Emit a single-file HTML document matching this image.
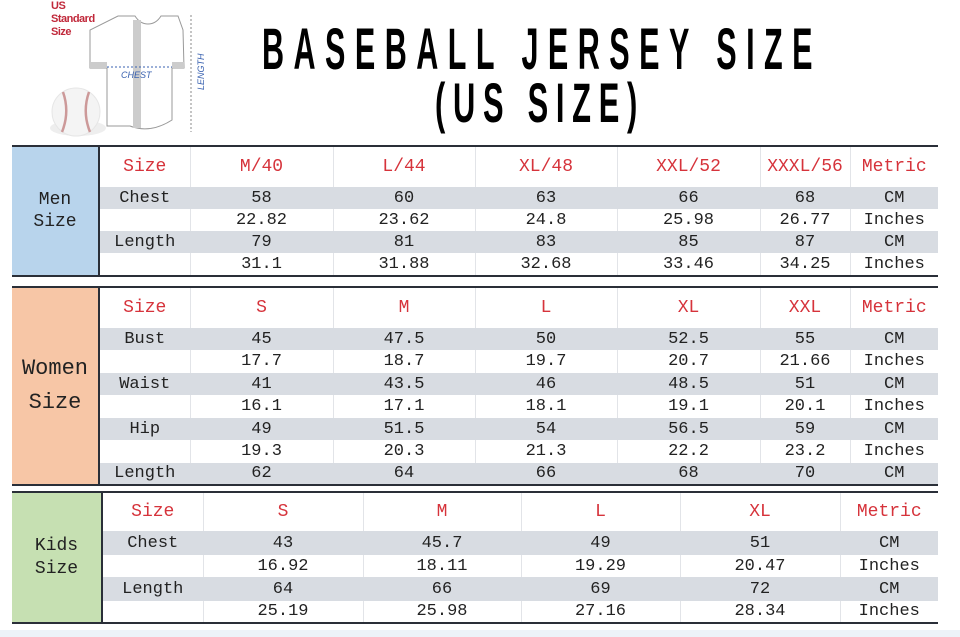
<!DOCTYPE html>
<html><head><meta charset="utf-8"><style>
body{margin:0;width:960px;height:637px;background:#fff;position:relative;overflow:hidden;font-family:"Liberation Mono","Noto Sans CJK SC",monospace;color:#222}
.sec{position:absolute;left:12px;width:926px;border-top:2px solid #2a2f38;border-bottom:2px solid #2a2f38}
.lab{position:absolute;left:0;top:0;bottom:0;border-right:2px solid #2a2f38;display:flex;align-items:center;justify-content:center;text-align:center;font-family:"Liberation Mono",monospace;}
table{position:absolute;top:0;border-collapse:collapse;table-layout:fixed}
td{padding:0;text-align:center;font-size:17px;line-height:1;white-space:nowrap;border-left:1px solid #e2e4e8}
td:first-child{border-left:none}
tr.g td{background:#d8dce2;border-left-color:#d8dce2}
tr.h td{color:#d6333b;font-size:18px;font-weight:normal}
.strip{position:absolute;left:0;top:630px;width:960px;height:7px;background:#edf2f8}
</style></head><body>
<div style="position:absolute;left:51px;top:0;color:#c0283a;font:bold 11px/13px 'Liberation Sans',sans-serif;letter-spacing:-0.5px">US<br>Standard<br>Size</div>
<svg style="position:absolute;left:0;top:0" width="240" height="140">
 <ellipse cx="78" cy="128" rx="28" ry="8" fill="#eee"/>
 <circle cx="76" cy="112" r="24" fill="#f4f4f4" stroke="#e6e6e6"/>
 <path d="M63 92 Q70 112 62 132 M89 92 Q82 112 90 132" stroke="#c99" stroke-width="2.5" fill="none"/>
 <path d="M118 16 L135 16 Q140 24 148 24 Q156 24 161 16 L178 16 L183 30 L184 68 L172 68 L172 120 Q150 134 130 126 L107 126 L107 68 L90 68 L90 30 Z" fill="#fff" stroke="#999"/>
 <rect x="90" y="62" width="17" height="6" fill="#ccc"/><rect x="172" y="62" width="12" height="6" fill="#ccc"/>
 <rect x="133" y="20" width="8" height="108" fill="#ccc"/>
 <line x1="107" y1="67" x2="172" y2="67" stroke="#3a62b0" stroke-dasharray="2,2"/>
 <text x="121" y="78" font-size="9" fill="#3a62b0" font-style="italic" font-family="Liberation Sans">CHEST</text>
 <line x1="191" y1="15" x2="191" y2="132" stroke="#888" stroke-dasharray="2,2"/>
 <text x="0" y="0" font-size="9" fill="#3a62b0" font-style="italic" font-family="Liberation Sans" transform="translate(204,90) rotate(-90)">LENGTH</text>
</svg>
<svg style="position:absolute;left:0;top:0" width="960" height="140">
 <text x="262" y="69" font-family="Liberation Sans" font-weight="bold" font-size="58" textLength="560" lengthAdjust="spacingAndGlyphs" letter-spacing="18">BASEBALL JERSEY SIZE</text>
 <text x="435" y="122" font-family="Liberation Sans" font-weight="bold" font-size="56" textLength="210" lengthAdjust="spacingAndGlyphs" letter-spacing="14">(US SIZE)</text>
</svg>

<div class="sec" style="top:145px;height:128px">
 <div class="lab" style="width:86px;background:#b8d4ec;font-size:18px;line-height:22px">Men<br>Size</div>
 <table style="left:88px;width:838px">
  <colgroup><col style="width:90px"><col style="width:143px"><col style="width:142px"><col style="width:142px"><col style="width:143px"><col style="width:90px"><col style="width:88px"></colgroup>
  <tr class="h" style="height:40px"><td>Size</td><td>M/40</td><td>L/44</td><td>XL/48</td><td>XXL/52</td><td>XXXL/56</td><td>Metric</td></tr>
  <tr class="g" style="height:22px"><td>Chest</td><td>58</td><td>60</td><td>63</td><td>66</td><td>68</td><td>CM</td></tr>
  <tr style="height:22px"><td></td><td>22.82</td><td>23.62</td><td>24.8</td><td>25.98</td><td>26.77</td><td>Inches</td></tr>
  <tr class="g" style="height:22px"><td>Length</td><td>79</td><td>81</td><td>83</td><td>85</td><td>87</td><td>CM</td></tr>
  <tr style="height:22px"><td></td><td>31.1</td><td>31.88</td><td>32.68</td><td>33.46</td><td>34.25</td><td>Inches</td></tr>
 </table>
</div>

<div class="sec" style="top:286px;height:196px">
 <div class="lab" style="width:86px;background:#f7c6a6;font-size:22px;line-height:34px">Women<br>Size</div>
 <table style="left:88px;width:838px">
  <colgroup><col style="width:90px"><col style="width:143px"><col style="width:142px"><col style="width:142px"><col style="width:143px"><col style="width:90px"><col style="width:88px"></colgroup>
  <tr class="h" style="height:40px"><td>Size</td><td>S</td><td>M</td><td>L</td><td>XL</td><td>XXL</td><td>Metric</td></tr>
  <tr class="g" style="height:22px"><td>Bust</td><td>45</td><td>47.5</td><td>50</td><td>52.5</td><td>55</td><td>CM</td></tr>
  <tr style="height:23px"><td></td><td>17.7</td><td>18.7</td><td>19.7</td><td>20.7</td><td>21.66</td><td>Inches</td></tr>
  <tr class="g" style="height:22px"><td>Waist</td><td>41</td><td>43.5</td><td>46</td><td>48.5</td><td>51</td><td>CM</td></tr>
  <tr style="height:23px"><td></td><td>16.1</td><td>17.1</td><td>18.1</td><td>19.1</td><td>20.1</td><td>Inches</td></tr>
  <tr class="g" style="height:22px"><td>Hip</td><td>49</td><td>51.5</td><td>54</td><td>56.5</td><td>59</td><td>CM</td></tr>
  <tr style="height:23px"><td></td><td>19.3</td><td>20.3</td><td>21.3</td><td>22.2</td><td>23.2</td><td>Inches</td></tr>
  <tr class="g" style="height:21px"><td>Length</td><td>62</td><td>64</td><td>66</td><td>68</td><td>70</td><td>CM</td></tr>
 </table>
</div>

<div class="sec" style="top:491px;height:129px">
 <div class="lab" style="width:89px;background:#c6e0b2;font-size:18px;line-height:23px">Kids<br>Size</div>
 <table style="left:91px;width:835px">
  <colgroup><col style="width:100px"><col style="width:160px"><col style="width:158px"><col style="width:159px"><col style="width:160px"><col style="width:98px"></colgroup>
  <tr class="h" style="height:38px"><td>Size</td><td>S</td><td>M</td><td>L</td><td>XL</td><td>Metric</td></tr>
  <tr class="g" style="height:24px"><td>Chest</td><td>43</td><td>45.7</td><td>49</td><td>51</td><td>CM</td></tr>
  <tr style="height:22px"><td></td><td>16.92</td><td>18.11</td><td>19.29</td><td>20.47</td><td>Inches</td></tr>
  <tr class="g" style="height:24px"><td>Length</td><td>64</td><td>66</td><td>69</td><td>72</td><td>CM</td></tr>
  <tr style="height:21px"><td></td><td>25.19</td><td>25.98</td><td>27.16</td><td>28.34</td><td>Inches</td></tr>
 </table>
</div>
<div class="strip"></div>
</body></html>
